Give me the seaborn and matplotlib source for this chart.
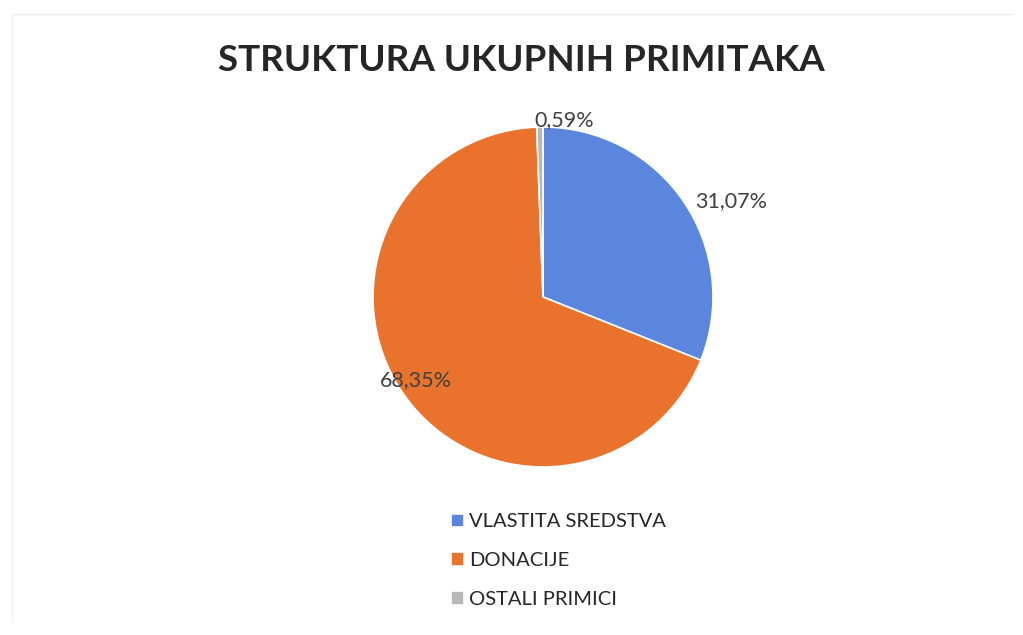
import numpy as np
import seaborn as sns
import matplotlib.pyplot as plt
from matplotlib.lines import Line2D

sns.set_theme(style='white')
plt.rcParams['font.family'] = ['Lato', 'DejaVu Sans']

categories = ['VLASTITA SREDSTVA', 'DONACIJE', 'OSTALI PRIMICI']
shares = [31.07, 68.35, 0.59]
share_labels = ['31,07%', '68,35%', '0,59%']
colors = ['#5B86DE', '#E9722C', '#B8B8B8']
label_dist = [1.24, 0.89, 1.05]
label_shift = [-7, -2, -8]

fig = plt.figure(figsize=(10.23, 6.35), dpi=100)
ax = fig.add_axes([0.3646, 0.2646, 0.3324, 0.5354])

wedges, texts = ax.pie(shares, colors=colors, startangle=90, counterclock=False,
                       wedgeprops={'edgecolor': 'white', 'linewidth': 1.2})
ax.set_xlim(-1, 1)
ax.set_ylim(-1, 1)
ax.set_aspect('equal')

for w, lab, d, sh in zip(wedges, share_labels, label_dist, label_shift):
    mid = np.deg2rad((w.theta1 + w.theta2) / 2 + sh)
    ax.text(d * np.cos(mid), d * np.sin(mid), lab, ha='center', va='center',
            fontsize=15.5, color='#404040')

fig.suptitle('STRUKTURA UKUPNIH PRIMITAKA', x=0.51, y=0.93, fontsize=26.5,
             fontweight='bold', color='#262626')

fig.legend(wedges, categories, loc='upper left', bbox_to_anchor=(0.423, 0.22),
           frameon=False, fontsize=14.5, handlelength=0.65, handleheight=0.65,
           handletextpad=0.25, labelspacing=1.08, labelcolor='#262626')

# faint frame of the scanned chart area
fig.add_artist(Line2D([0.012, 0.99], [0.978, 0.978], color='#EEEEEE', lw=1))
fig.add_artist(Line2D([0.012, 0.012], [0.02, 0.978], color='#F2F2F2', lw=1))

fig.savefig('out.png', dpi=100, facecolor='white')
